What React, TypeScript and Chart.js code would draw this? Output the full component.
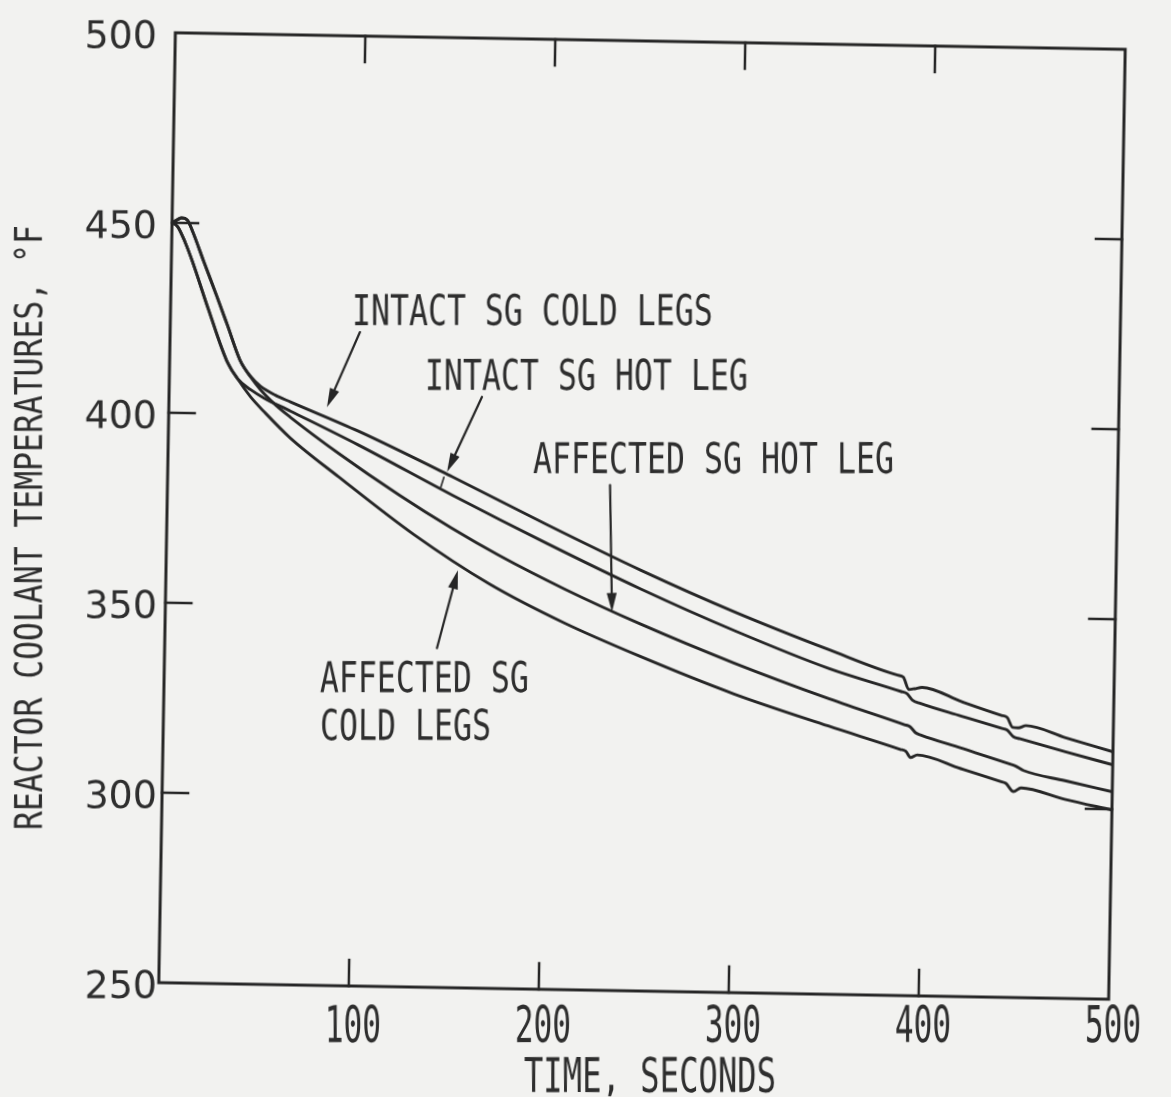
import { useEffect, useRef } from "react";
import { Chart, registerables } from "chart.js";

Chart.register(...registerables);

const WIDTH = 1171;
const HEIGHT = 1097;

// Chart area padding inside the canvas
const PAD = { left: 167, top: 41, right: 54, bottom: 106 };
// The plotter frame sits with a slight clockwise tilt
const TILT_DEG = 1;
const TILT = (TILT_DEG * Math.PI) / 180;
const PIVOT_X = (PAD.left + (WIDTH - PAD.right)) / 2;
const PIVOT_Y = (PAD.top + (HEIGHT - PAD.bottom)) / 2;

const INK = "#262626";
const TEXT = "#2e2e2e";
const PAPER = "#f2f2f0";

// Axis ranges and ticks
const X_MIN = 0;
const X_MAX = 500;
const Y_MIN = 250;
const Y_MAX = 500;
const xLabelValues = [100, 200, 300, 400, 500];
const yLabelValues = [250, 300, 350, 400, 450, 500];
const xTickMarks = [100, 200, 300, 400];
const yTickMarks = [300, 350, 400, 450];
const xTitle = "TIME, SECONDS";
const yTitle = "REACTOR COOLANT TEMPERATURES, °F";

// Intact SG hot leg (s, °F)
const intactHotTime = [0, 3, 5, 8, 11, 17, 24, 30, 37, 43, 48, 56, 64, 100, 150, 200, 250, 300, 350, 386, 389, 392, 395, 399, 420, 441, 444, 447, 450, 454, 475, 500];
const intactHotTemp = [450, 450.9, 451.3, 450.8, 447.7, 440.0, 431.2, 423.4, 414.2, 409.8, 407.4, 405.1, 403.4, 396.0, 384.4, 372.3, 360.7, 350.1, 340.6, 334.3, 333.8, 330.6, 330.8, 331.2, 327.6, 324.2, 323.7, 321.1, 321.0, 321.6, 318.6, 315.1];

// Intact SG cold legs
const intactColdTime = [0, 3, 7, 11, 20, 30, 36, 43, 50, 64, 100, 150, 200, 250, 300, 350, 388, 391, 394, 398, 420, 441, 444, 447.5, 451, 475, 500];
const intactColdTemp = [450, 449.0, 445.0, 440.0, 427.3, 414.0, 409.2, 406.4, 404.3, 401.0, 392.4, 379.6, 367.4, 355.8, 345.2, 335.7, 330.0, 329.5, 327.8, 327.0, 323.8, 320.8, 320.4, 318.6, 318.1, 314.9, 311.7];

// Affected SG hot leg
const affectedHotTime = [0, 3, 5, 8, 11, 17, 24, 30, 37, 43, 48, 56, 64, 90, 122, 150, 175, 210, 250, 300, 350, 390, 393, 396, 399, 420, 446, 449, 453, 475, 500];
const affectedHotTemp = [450, 450.9, 451.3, 450.8, 447.7, 440.0, 431.2, 423.4, 414.2, 409.6, 406.5, 402.6, 399.4, 390.0, 379.4, 370.9, 364.0, 355.4, 346.6, 336.7, 327.8, 321.3, 320.8, 319.2, 318.6, 315.4, 311.4, 310.9, 309.8, 307.3, 304.6];

// Affected SG cold legs
const affectedColdTime = [0, 3, 7, 11, 20, 30, 36, 43, 50, 64, 90, 130, 170, 210, 250, 300, 350, 388, 391, 393.5, 397, 420, 441, 444, 448, 452, 475, 500];
const affectedColdTemp = [450, 449.0, 445.0, 440.0, 427.3, 414.0, 409.2, 404.5, 400.8, 394.0, 383.9, 369.1, 356.5, 346.5, 338.1, 328.6, 320.6, 314.8, 314.3, 312.7, 313.4, 310.0, 306.8, 306.3, 304.2, 305.2, 302.4, 299.8];

// Curve labels, anchored at (time, temperature) of their left baseline
const noteTexts = ["INTACT SG COLD LEGS", "INTACT SG HOT LEG", "AFFECTED SG HOT LEG", "AFFECTED SG", "COLD LEGS"];
const noteTime = [95.6, 134.6, 192.2, 82.1, 82.6];
const noteTemp = [423.9, 407.2, 385.8, 327.2, 314.6];

// Leader arrows: tail -> head
const arrowFromTime = [99.9, 164.7, 232.9, 143.3];
const arrowFromTemp = [422.1, 405.6, 383.0, 339.3];
const arrowToTime = [83.2, 147.0, 235.1, 153.6];
const arrowToTemp = [402.2, 385.7, 349.6, 359.9];
// short mark continuing the hot-leg leader down to the next curve
const leaderTime = [145.4, 143.9];
const leaderTemp = [384.3, 381.7];

const MONO = '"DejaVu Sans Mono", "Liberation Mono", monospace';

function monoText(
  ctx: CanvasRenderingContext2D,
  text: string,
  x: number,
  y: number,
  cap: number,
  pitch: number,
  align: "left" | "center"
) {
  const size = cap / 0.73;
  ctx.font = `${size}px ${MONO}`;
  const adv = ctx.measureText("M").width;
  const sx = pitch / adv;
  const w = ctx.measureText(text).width * sx;
  ctx.save();
  ctx.translate(align === "center" ? x - w / 2 : x, y);
  ctx.scale(sx, 1);
  ctx.textAlign = "left";
  ctx.textBaseline = "alphabetic";
  ctx.fillText(text, 0, 0);
  ctx.restore();
}

function arrow(ctx: CanvasRenderingContext2D, x0: number, y0: number, x1: number, y1: number) {
  const ang = Math.atan2(y1 - y0, x1 - x0);
  const len = 19;
  const half = 5;
  const bx = x1 - len * Math.cos(ang);
  const by = y1 - len * Math.sin(ang);
  ctx.beginPath();
  ctx.moveTo(x0, y0);
  ctx.lineTo(bx, by);
  ctx.stroke();
  ctx.beginPath();
  ctx.moveTo(x1, y1);
  ctx.lineTo(bx + half * Math.sin(ang), by - half * Math.cos(ang));
  ctx.lineTo(bx - half * Math.sin(ang), by + half * Math.cos(ang));
  ctx.closePath();
  ctx.fill();
}

const framePlugin = {
  id: "plotterFrame",
  afterDraw(chart: any) {
    const { ctx, chartArea: a } = chart;
    const xs = chart.scales.x;
    const ys = chart.scales.y;
    ctx.save();
    ctx.strokeStyle = INK;
    ctx.fillStyle = INK;
    ctx.lineCap = "square";

    // frame
    ctx.lineWidth = 3;
    ctx.strokeRect(a.left, a.top, a.right - a.left, a.bottom - a.top);

    // inward tick marks on all four sides
    ctx.lineWidth = 2.5;
    ctx.beginPath();
    for (const v of xTickMarks) {
      const px = xs.getPixelForValue(v);
      ctx.moveTo(px, a.bottom);
      ctx.lineTo(px, a.bottom - 26);
      ctx.moveTo(px, a.top);
      ctx.lineTo(px, a.top + 26);
    }
    for (const v of yTickMarks) {
      const py = ys.getPixelForValue(v);
      ctx.moveTo(a.left, py);
      ctx.lineTo(a.left + 26, py);
      ctx.moveTo(a.right, py);
      ctx.lineTo(a.right - 26, py);
    }
    ctx.stroke();

    // leader arrows
    ctx.lineWidth = 2.2;
    ctx.lineCap = "round";
    for (let i = 0; i < arrowFromTime.length; i++) {
      arrow(
        ctx,
        xs.getPixelForValue(arrowFromTime[i]),
        ys.getPixelForValue(arrowFromTemp[i]),
        xs.getPixelForValue(arrowToTime[i]),
        ys.getPixelForValue(arrowToTemp[i])
      );
    }
    ctx.lineWidth = 1.6;
    ctx.beginPath();
    ctx.moveTo(xs.getPixelForValue(leaderTime[0]), ys.getPixelForValue(leaderTemp[0]));
    ctx.lineTo(xs.getPixelForValue(leaderTime[1]), ys.getPixelForValue(leaderTemp[1]));
    ctx.stroke();

    // curve labels, kept upright
    ctx.fillStyle = TEXT;
    for (let i = 0; i < noteTexts.length; i++) {
      ctx.save();
      ctx.translate(xs.getPixelForValue(noteTime[i]), ys.getPixelForValue(noteTemp[i]));
      ctx.rotate(-TILT);
      monoText(ctx, noteTexts[i], 0, 0, 31, 19, "left");
      ctx.restore();
    }

    // axis numbering and titles are lettered upright
    ctx.save();
    ctx.translate(PIVOT_X, PIVOT_Y);
    ctx.rotate(-TILT);
    ctx.translate(-PIVOT_X, -PIVOT_Y);

    for (const v of xLabelValues) {
      monoText(ctx, String(v), xs.getPixelForValue(v) - 4, a.bottom + 51, 37, 18.8, "center");
    }

    ctx.font = '38px "DejaVu Sans", sans-serif';
    ctx.textAlign = "right";
    ctx.textBaseline = "alphabetic";
    for (const v of yLabelValues) {
      ctx.fillText(String(v), a.left - 10, ys.getPixelForValue(v) + 7);
    }

    monoText(ctx, xTitle, (a.left + a.right) / 2 + 8, a.bottom + 101, 35, 19.4, "center");

    ctx.save();
    ctx.translate(a.left - 125, 830);
    ctx.rotate(-Math.PI / 2);
    monoText(ctx, yTitle, 0, 0, 28, 18.9, "left");
    ctx.restore();

    ctx.restore();
    ctx.restore();
  },
};

function series(times: number[], temps: number[]) {
  return times.map((t, i) => ({ x: t, y: temps[i] }));
}

export default function App() {
  const canvasRef = useRef<HTMLCanvasElement | null>(null);

  useEffect(() => {
    const canvas = canvasRef.current;
    if (!canvas) return;
    const lineStyle = {
      borderColor: INK,
      borderWidth: 2.9,
      pointRadius: 0,
      fill: false,
      cubicInterpolationMode: "monotone" as const,
      borderCapStyle: "round" as const,
      borderJoinStyle: "round" as const,
    };
    const chart = new Chart(canvas, {
      type: "line",
      data: {
        datasets: [
          { label: "Intact SG hot leg", data: series(intactHotTime, intactHotTemp), ...lineStyle },
          { label: "Intact SG cold legs", data: series(intactColdTime, intactColdTemp), ...lineStyle },
          { label: "Affected SG hot leg", data: series(affectedHotTime, affectedHotTemp), ...lineStyle },
          { label: "Affected SG cold legs", data: series(affectedColdTime, affectedColdTemp), ...lineStyle },
        ],
      },
      options: {
        responsive: false,
        animation: false,
        devicePixelRatio: 1,
        layout: { padding: PAD },
        plugins: { legend: { display: false }, tooltip: { enabled: false } },
        scales: {
          x: { type: "linear", min: X_MIN, max: X_MAX, display: false },
          y: { type: "linear", min: Y_MIN, max: Y_MAX, display: false },
        },
      },
      plugins: [framePlugin],
    });
    return () => chart.destroy();
  }, []);

  return (
    <div
      style={{
        position: "fixed",
        left: 0,
        top: 0,
        width: WIDTH,
        height: HEIGHT,
        background: PAPER,
        overflow: "hidden",
      }}
    >
      <canvas
        ref={canvasRef}
        width={WIDTH}
        height={HEIGHT}
        style={{
          position: "absolute",
          left: 0,
          top: 0,
          width: WIDTH,
          height: HEIGHT,
          transform: `rotate(${TILT_DEG}deg)`,
          transformOrigin: `${PIVOT_X}px ${PIVOT_Y}px`,
        }}
      />
    </div>
  );
}
